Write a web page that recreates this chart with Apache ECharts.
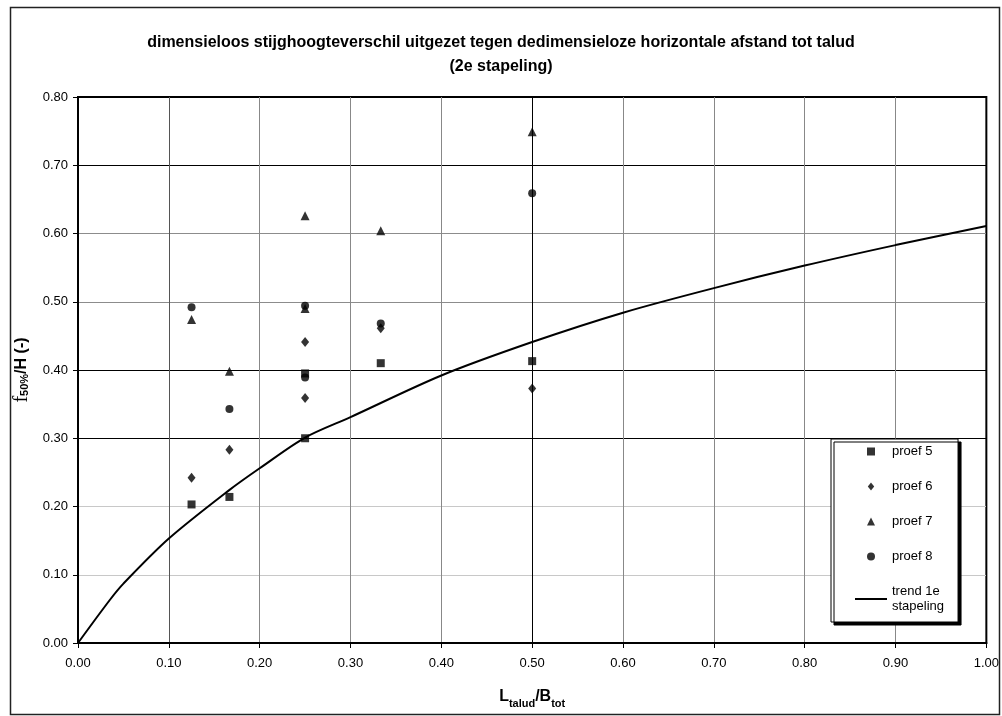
<!DOCTYPE html>
<html>
<head>
<meta charset="utf-8">
<script src="https://cdn.jsdelivr.net/npm/echarts@6/dist/echarts.min.js"></script>
<style>
  html, body { margin: 0; padding: 0; background: #fff; }
  #chart { width: 1002px; height: 716px; }
</style>
</head>
<body>
<div id="chart"></div>
<script>
// measured points, [L_talud/B_tot, f50%/H]
var proef5 = [[0.125, 0.203], [0.1667, 0.214], [0.25, 0.300], [0.25, 0.395], [0.3333, 0.410], [0.5, 0.413]];
var proef6 = [[0.125, 0.242], [0.1667, 0.283], [0.25, 0.359], [0.25, 0.441], [0.3333, 0.461], [0.5, 0.373]];
var proef7 = [[0.125, 0.474], [0.1667, 0.398], [0.25, 0.490], [0.25, 0.626], [0.3333, 0.604], [0.5, 0.749]];
var proef8 = [[0.125, 0.492], [0.1667, 0.343], [0.25, 0.389], [0.25, 0.494], [0.3333, 0.468], [0.5, 0.659]];

// trend line of the 1st stacking
var trendX = [0, 0.035, 0.05, 0.1, 0.1665, 0.2, 0.25, 0.3, 0.4, 0.5, 0.6, 0.7, 0.8, 0.9, 1.0];
var trendY = [0, 0.063, 0.087, 0.153, 0.224, 0.256, 0.301, 0.331, 0.392, 0.441, 0.484, 0.520, 0.553, 0.583, 0.611];

var seriesNames = ['proef 5', 'proef 6', 'proef 7', 'proef 8', 'trend 1e\nstapeling'];
// path icons so the legend keeps their aspect inside the wide item box
var legendIcons = [
    'path://M0,0L8,0L8,8L0,8Z',
    'path://M4,0L8,5L4,10L0,5Z',
    'path://M4,0L8,8L0,8Z',
    'circle',
    'path://M0,0L32,0L32,2L0,2Z'
];

var trendData = [];
for (var i = 0; i < trendX.length; i++) {
    trendData.push([trendX[i], trendY[i]]);
}

var legendData = seriesNames.map(function (n, i) {
    return { name: n, icon: legendIcons[i] };
});

var font = '"Liberation Sans", Arial, sans-serif';
var fmt = function (v) { return v.toFixed(2); };

function scatter(name, symbol, size, data) {
    return {
        name: name,
        type: 'scatter',
        symbol: symbol,
        symbolSize: size,
        itemStyle: { color: '#000' },
        data: data,
        z: 5
    };
}

var option = {
    animation: false,
    backgroundColor: '#fff',
    textStyle: { fontFamily: font },
    title: {
        text: 'dimensieloos stijghoogteverschil uitgezet tegen dedimensieloze horizontale afstand tot talud\n(2e stapeling)',
        left: 'center',
        top: 26,
        textStyle: {
            fontFamily: font,
            fontSize: 16,
            fontWeight: 'bold',
            color: '#000',
            lineHeight: 24
        }
    },
    graphic: [{
        type: 'rect',
        left: 8,
        top: 5,
        shape: { width: 989, height: 707 },
        style: { fill: null, stroke: '#222', lineWidth: 1.5 },
        silent: true
    }],
    legend: {
        orient: 'vertical',
        left: 831,
        top: 439,
        padding: [5, 14, 8, 24],
        itemWidth: 32,
        itemHeight: 8,
        itemGap: 20,
        symbolKeepAspect: true,
        backgroundColor: '#fff',
        borderColor: '#000',
        borderWidth: 1,
        shadowColor: '#000',
        shadowOffsetX: 3,
        shadowOffsetY: 3,
        shadowBlur: 0,
        itemStyle: { color: '#000' },
        textStyle: { fontFamily: font, fontSize: 13, color: '#000', lineHeight: 15 },
        data: legendData
    },
    grid: {
        left: 78,
        right: 11,
        top: 97,
        bottom: 73,
        show: true,
        borderColor: '#000',
        borderWidth: 2
    },
    xAxis: {
        type: 'value',
        min: 0,
        max: 1,
        interval: 0.1,
        name: '{b|L}{s|talud}{b|/B}{s|tot}',
        nameLocation: 'middle',
        nameGap: 46,
        nameTextStyle: {
            rich: {
                b: { fontFamily: font, fontSize: 16, fontWeight: 'bold', color: '#000', verticalAlign: 'bottom' },
                s: { fontFamily: font, fontSize: 11, fontWeight: 'bold', color: '#000', verticalAlign: 'bottom', padding: [0, 0, -4, 0] }
            }
        },
        axisLine: { lineStyle: { color: '#000', width: 2 } },
        axisTick: { show: true, length: 5, lineStyle: { color: '#000' } },
        axisLabel: { formatter: fmt, margin: 14, fontSize: 13, color: '#000', fontFamily: font },
        splitLine: {
            show: true,
            lineStyle: {
                width: 1,
                color: ['#000', '#555', '#888', '#888', '#888', '#000', '#888', '#888', '#888', '#888', '#000']
            }
        }
    },
    yAxis: {
        type: 'value',
        min: 0,
        max: 0.8,
        interval: 0.1,
        name: '{f|f}{s|50%}{b|/H (-)}',
        nameLocation: 'middle',
        nameGap: 40,
        nameTextStyle: {
            rich: {
                f: { fontFamily: '"Liberation Serif", serif', fontSize: 20, color: '#000' },
                b: { fontFamily: font, fontSize: 16, fontWeight: 'bold', color: '#000' },
                s: { fontFamily: font, fontSize: 11, fontWeight: 'bold', color: '#000', padding: [0, 0, -6, 0] }
            }
        },
        axisLine: { show: true, lineStyle: { color: '#000', width: 2 } },
        axisTick: { show: true, length: 5, lineStyle: { color: '#000' } },
        axisLabel: { formatter: fmt, margin: 10, fontSize: 13, color: '#000', fontFamily: font },
        splitLine: {
            show: true,
            lineStyle: {
                width: 1,
                color: ['#000', '#c8c8c8', '#c8c8c8', '#000', '#000', '#8c8c8c', '#8c8c8c', '#000', '#000']
            }
        }
    },
    series: [
        scatter(seriesNames[0], 'rect', 8, proef5),
        scatter(seriesNames[1], 'diamond', [8, 10], proef6),
        scatter(seriesNames[2], 'triangle', 9, proef7),
        scatter(seriesNames[3], 'circle', 8, proef8),
        {
            name: seriesNames[4],
            type: 'line',
            smooth: 0.3,
            symbol: 'none',
            lineStyle: { color: '#000', width: 2 },
            itemStyle: { color: '#000' },
            data: trendData,
            z: 4
        }
    ]
};

var chart = echarts.init(document.getElementById('chart'));
chart.setOption(option);
</script>
</body>
</html>
